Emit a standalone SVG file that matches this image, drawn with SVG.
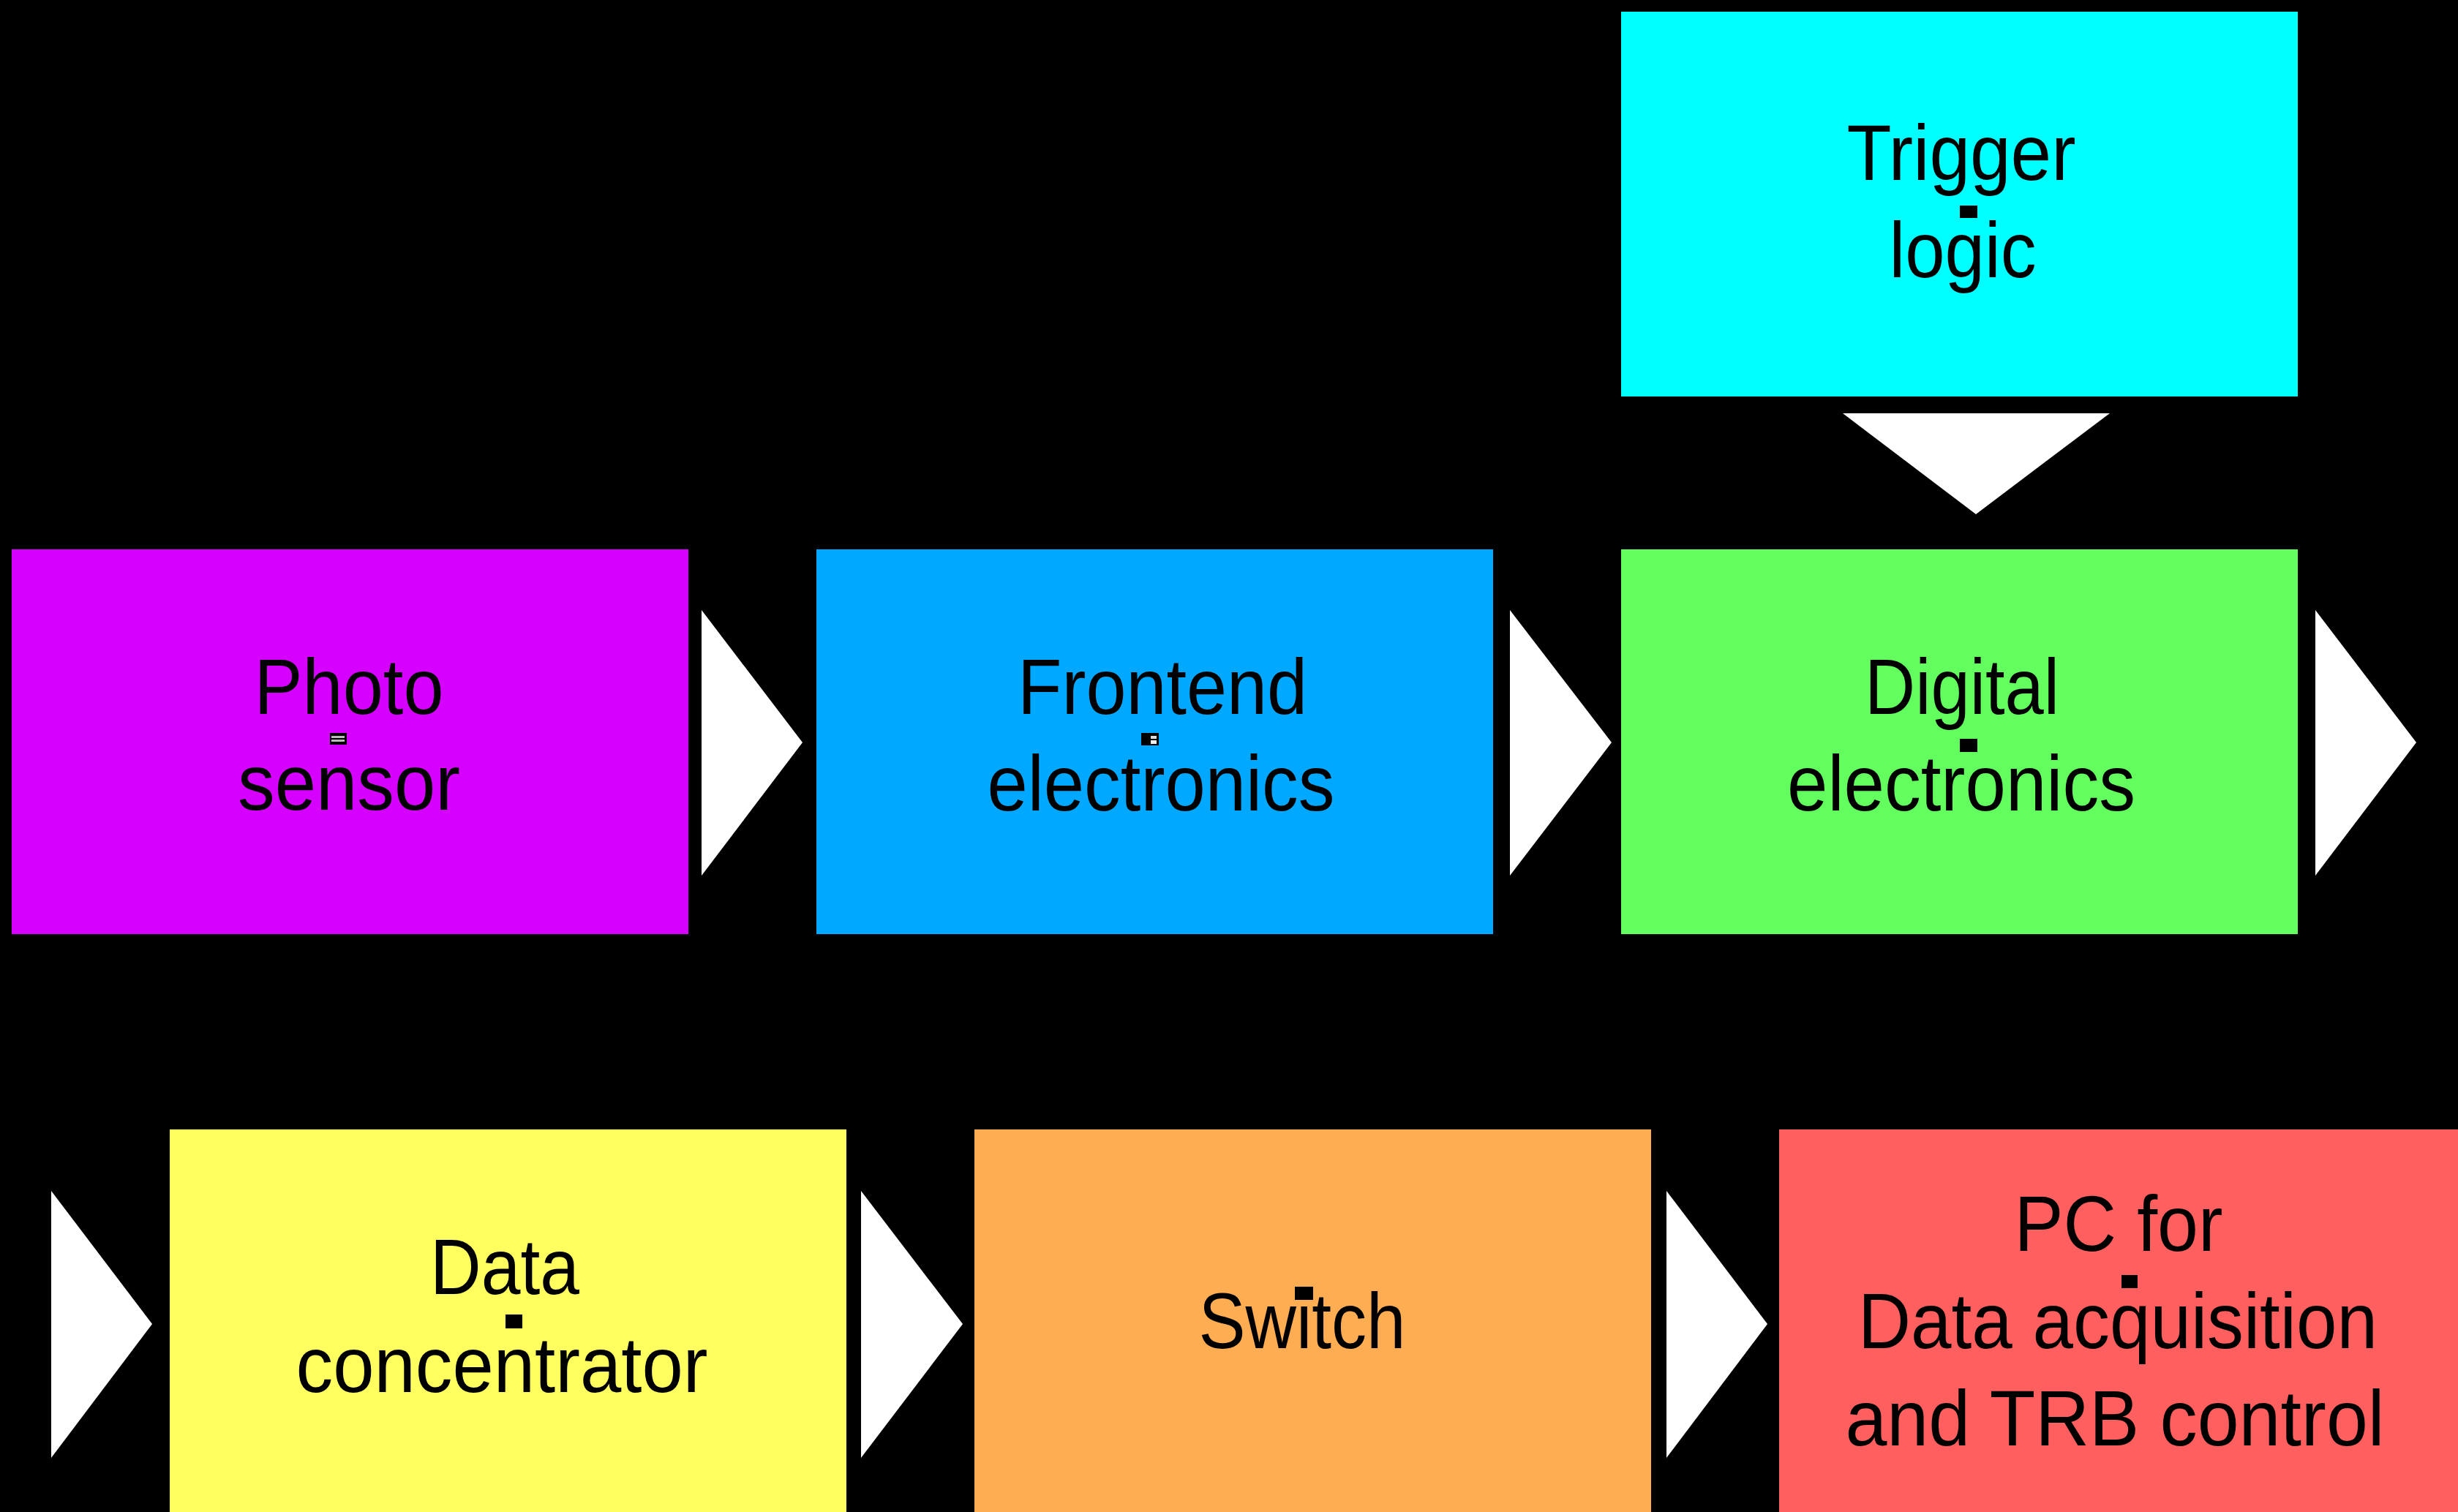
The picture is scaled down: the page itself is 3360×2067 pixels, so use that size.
<svg xmlns="http://www.w3.org/2000/svg" width="3360" height="2067" viewBox="0 0 3360 2067">
  <style>
    .box { stroke: none; }
    .lbl { font-family: "Liberation Sans", Arial, sans-serif; font-size: 107px; fill: #000; text-anchor: middle; }
    .arrow { fill: #ffffff; stroke: none; }
    .mark { fill: #000; }
    .markin { fill: #bbbbbb; }
  </style>
  <rect x="0" y="0" width="3360" height="2067" fill="#000000"/>

  <g id="node-trigger">
    <rect class="box" x="2216" y="16" width="925" height="526" fill="#00ffff"/>
    <text class="lbl" x="2681" y="246" textLength="313" lengthAdjust="spacingAndGlyphs">Trigger</text>
    <text class="lbl" x="2683" y="379" textLength="201" lengthAdjust="spacingAndGlyphs">logic</text>
    <rect class="mark" x="2679" y="281" width="24" height="17"/>
  </g>

  <g id="node-photo">
    <rect class="box" x="16" y="751" width="925" height="526" fill="#d500ff"/>
    <text class="lbl" x="477" y="976" textLength="259" lengthAdjust="spacingAndGlyphs">Photo</text>
    <text class="lbl" x="477" y="1107" textLength="304" lengthAdjust="spacingAndGlyphs">sensor</text>
    <rect class="mark" x="451" y="1002" width="23" height="16"/>
    <rect class="markin" x="453" y="1006" width="18" height="3"/>
    <rect class="markin" x="453" y="1011" width="18" height="3"/>
  </g>

  <g id="node-frontend">
    <rect class="box" x="1116" y="751" width="925" height="526" fill="#00a9ff"/>
    <text class="lbl" x="1589" y="976" textLength="396" lengthAdjust="spacingAndGlyphs">Frontend</text>
    <text class="lbl" x="1587" y="1108" textLength="475" lengthAdjust="spacingAndGlyphs">electronics</text>
    <rect class="mark" x="1560" y="1002" width="24" height="17"/>
    <rect x="1573" y="1006" width="8" height="4" fill="#dddddd"/>
    <rect x="1573" y="1012" width="8" height="5" fill="#eeeeee"/>
  </g>

  <g id="node-digital">
    <rect class="box" x="2216" y="751" width="925" height="526" fill="#62ff5f"/>
    <text class="lbl" x="2682" y="976" textLength="266" lengthAdjust="spacingAndGlyphs">Digital</text>
    <text class="lbl" x="2681" y="1108" textLength="476" lengthAdjust="spacingAndGlyphs">electronics</text>
    <rect class="mark" x="2679" y="1010" width="24" height="18"/>
  </g>

  <g id="node-concentrator">
    <rect class="box" x="232" y="1544" width="925" height="530" fill="#ffff5f"/>
    <text class="lbl" x="690" y="1769" textLength="204" lengthAdjust="spacingAndGlyphs">Data</text>
    <text class="lbl" x="686" y="1903" textLength="563" lengthAdjust="spacingAndGlyphs">concentrator</text>
    <rect class="mark" x="691" y="1797" width="23" height="19"/>
  </g>

  <g id="node-switch">
    <rect class="box" x="1332" y="1544" width="925" height="530" fill="#ffad52"/>
    <text class="lbl" x="1780" y="1843" textLength="283" lengthAdjust="spacingAndGlyphs">Switch</text>
    <rect class="mark" x="1770" y="1759" width="25" height="18"/>
  </g>

  <g id="node-pc">
    <rect class="box" x="2432" y="1544" width="930" height="530" fill="#ff5f5f"/>
    <text class="lbl" x="2896" y="1710" textLength="285" lengthAdjust="spacingAndGlyphs">PC for</text>
    <text class="lbl" x="2895" y="1843" textLength="710" lengthAdjust="spacingAndGlyphs">Data acquisition</text>
    <text class="lbl" x="2891" y="1976" textLength="737" lengthAdjust="spacingAndGlyphs">and TRB control</text>
    <rect class="mark" x="2900" y="1743" width="22" height="18"/>
  </g>

  <g id="connectors">
    <polygon class="arrow" points="2519,565 2884,565 2701,703"/>
    <polygon class="arrow" points="959,834 1097,1015 959,1197"/>
    <polygon class="arrow" points="2064,834 2203,1015 2064,1197"/>
    <polygon class="arrow" points="3165,834 3303,1015 3165,1197"/>
    <polygon class="arrow" points="70,1628 208,1810 70,1993"/>
    <polygon class="arrow" points="1177,1628 1316,1810 1177,1993"/>
    <polygon class="arrow" points="2278,1628 2416,1810 2278,1993"/>
  </g>
</svg>
